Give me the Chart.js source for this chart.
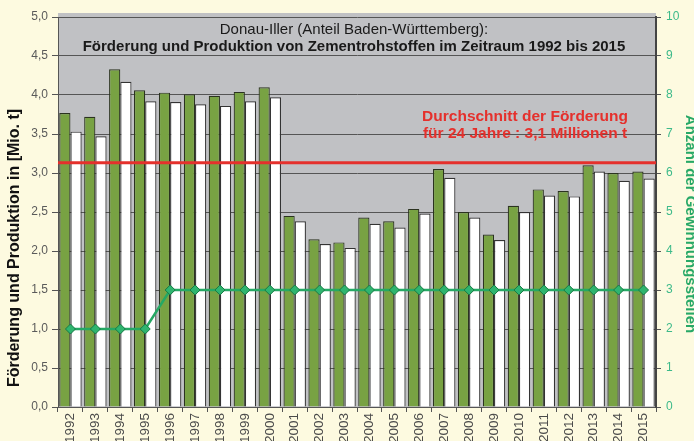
<!DOCTYPE html>
<html>
<head>
<meta charset="utf-8">
<script src="https://cdn.jsdelivr.net/npm/chart.js@4"></script>
<style>
  html, body { margin: 0; padding: 0; background: #fdfae0; overflow: hidden; }
  #wrap { width: 694px; height: 441px; }
</style>
</head>
<body>
<div id="wrap"><canvas id="chart" width="694" height="441"></canvas></div>
<script>
// Jahre
const years = ['1992', '1993', '1994', '1995', '1996', '1997', '1998', '1999', '2000', '2001', '2002', '2003',
  '2004', '2005', '2006', '2007', '2008', '2009', '2010', '2011', '2012', '2013', '2014', '2015'];

// Förderung [Mio. t] (grüne Balken)
const foerderung = [3.77, 3.72, 4.33, 4.06, 4.03, 4.01, 3.99, 4.04, 4.10, 2.45, 2.15, 2.11,
  2.43, 2.38, 2.54, 3.05, 2.50, 2.21, 2.58, 2.79, 2.77, 3.10, 3.00, 3.02];

// Produktion [Mio. t] (weiße Balken)
const produktion = [3.53, 3.47, 4.17, 3.92, 3.91, 3.88, 3.86, 3.92, 3.97, 2.38, 2.09, 2.04,
  2.35, 2.30, 2.48, 2.94, 2.43, 2.14, 2.50, 2.71, 2.70, 3.02, 2.90, 2.93];

// Anzahl der Gewinnungsstellen (rechte Achse)
const gewinnungsstellen = [2, 2, 2, 2, 3, 3, 3, 3, 3, 3, 3, 3,
  3, 3, 3, 3, 3, 3, 3, 3, 3, 3, 3, 3];

// Durchschnitt der Förderung über 24 Jahre
const durchschnitt = foerderung.reduce((a, b) => a + b, 0) / foerderung.length;

const FONT = '"Liberation Sans", Arial, sans-serif';

// Grauer Plotbereich
const plotBackground = {
  id: 'plotBackground',
  beforeDraw(chart) {
    const { ctx, chartArea: a } = chart;
    ctx.save();
    ctx.fillStyle = '#c0c1c4';
    ctx.fillRect(a.left, a.top - 4, a.right - a.left, a.bottom - a.top + 4);
    ctx.restore();
  }
};

// Titel, Durchschnittslinie und Achsentitel
const annotations = {
  id: 'annotations',
  afterDatasetsDraw(chart) {
    const { ctx, chartArea: a, scales } = chart;
    const cx = (a.left + a.right) / 2 - 3;

    ctx.save();
    ctx.textAlign = 'center';
    ctx.textBaseline = 'middle';
    ctx.fillStyle = '#1a1a1a';
    ctx.font = '15px ' + FONT;
    ctx.fillText('Donau-Iller (Anteil Baden-Württemberg):', cx, 30);
    ctx.font = 'bold 15px ' + FONT;
    ctx.fillText('Förderung und Produktion von Zementrohstoffen im Zeitraum 1992 bis 2015', cx, 47);

    // rote Linie
    const y = scales.y.getPixelForValue(durchschnitt);
    ctx.strokeStyle = '#e5302c';
    ctx.lineWidth = 3;
    ctx.beginPath();
    ctx.moveTo(a.left, y);
    ctx.lineTo(a.right, y);
    ctx.stroke();

    ctx.fillStyle = '#e5302c';
    ctx.font = 'bold 15.5px ' + FONT;
    ctx.fillText('Durchschnitt der Förderung', 525, 117);
    ctx.fillText('für 24 Jahre : 3,1 Millionen t', 525, 134);

    // linke Achsenbeschriftung
    ctx.fillStyle = '#111';
    ctx.font = 'bold 16px ' + FONT;
    ctx.translate(15, 248);
    ctx.rotate(-Math.PI / 2);
    ctx.fillText('Förderung und Produktion in [Mio. t]', 0, 0);
    ctx.restore();

    // rechte Achsenbeschriftung
    ctx.save();
    ctx.textAlign = 'center';
    ctx.textBaseline = 'middle';
    ctx.fillStyle = '#27a867';
    ctx.font = 'bold 15px ' + FONT;
    ctx.translate(690, 224);
    ctx.rotate(Math.PI / 2);
    ctx.fillText('Anzahl der Gewinnungsstellen', 0, 0);
    ctx.restore();
  }
};

new Chart(document.getElementById('chart'), {
  type: 'bar',
  data: {
    labels: years,
    datasets: [
      {
        type: 'line',
        label: 'Gewinnungsstellen',
        data: gewinnungsstellen,
        yAxisID: 'y1',
        borderColor: '#25a864',
        borderWidth: 2.5,
        pointStyle: 'rectRot',
        pointRadius: 5,
        pointBackgroundColor: '#2fb56f',
        pointBorderColor: '#177a44',
        pointBorderWidth: 1,
        tension: 0,
        order: 0
      },
      {
        label: 'Förderung',
        data: foerderung,
        yAxisID: 'y',
        backgroundColor: '#78a243',
        borderColor: '#2b3320',
        borderWidth: 1.2,
        categoryPercentage: 0.9,
        barPercentage: 1.0,
        order: 1
      },
      {
        label: 'Produktion',
        data: produktion,
        yAxisID: 'y',
        backgroundColor: '#ffffff',
        borderColor: '#333333',
        borderWidth: 1.2,
        categoryPercentage: 0.9,
        barPercentage: 1.0,
        order: 1
      }
    ]
  },
  options: {
    responsive: false,
    animation: false,
    layout: { padding: { top: 17, left: 0, right: 0, bottom: 0 } },
    plugins: {
      legend: { display: false },
      tooltip: { enabled: false }
    },
    scales: {
      x: {
        afterFit(scale) { scale.height = 34; },
        border: { color: '#555', width: 1 },
        grid: { offset: true, drawOnChartArea: false, color: '#555', tickLength: 5 },
        ticks: {
          color: '#4a4a4a',
          font: { family: FONT, size: 13.5 },
          minRotation: 90,
          maxRotation: 90,
          padding: 1,
          autoSkip: false
        }
      },
      y: {
        position: 'left',
        min: 0,
        max: 5,
        afterFit(scale) { scale.width = 58; },
        border: { color: '#555', width: 1 },
        grid: { color: '#555', lineWidth: 1, tickLength: 6 },
        ticks: {
          stepSize: 0.5,
          color: '#5a5a5a',
          font: { family: FONT, size: 12 },
          padding: 4,
          callback: v => v.toFixed(1).replace('.', ',')
        }
      },
      y1: {
        position: 'right',
        min: 0,
        max: 10,
        afterFit(scale) { scale.width = 38; },
        border: { color: '#444', width: 2 },
        grid: { drawOnChartArea: false, color: '#555', tickLength: 5 },
        ticks: {
          stepSize: 1,
          color: '#3dba8a',
          font: { family: FONT, size: 12 },
          padding: 5
        }
      }
    }
  },
  plugins: [plotBackground, annotations]
});
</script>
</body>
</html>
